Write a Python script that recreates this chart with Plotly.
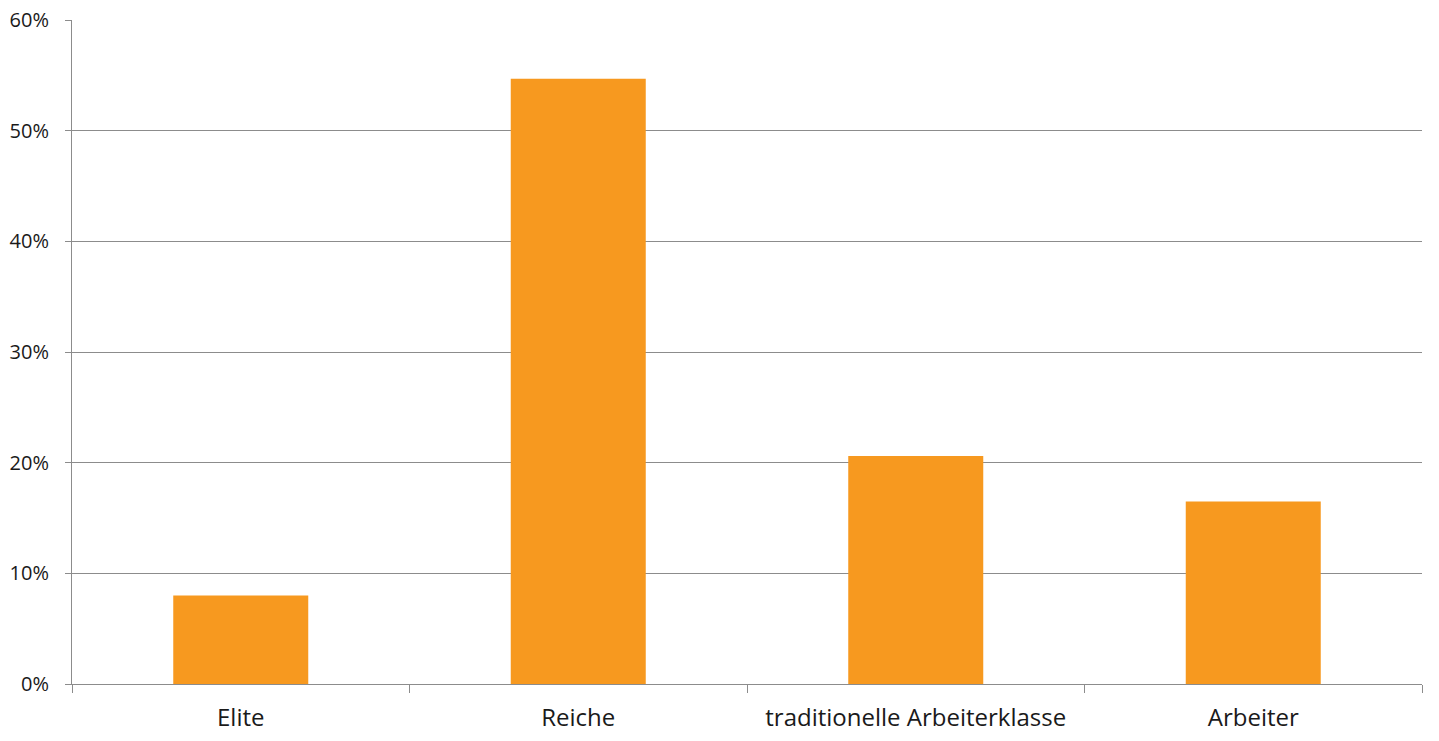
import plotly.graph_objects as go

# Anteil je Klasse (in %)
klassen = ["Elite", "Reiche", "traditionelle Arbeiterklasse", "Arbeiter"]
anteile = [8.0, 54.7, 20.6, 16.5]

y_ticks = [0, 10, 20, 30, 40, 50, 60]
y_labels = ["0%", "10%", "20%", "30%", "40%", "50%", "60%"]

fig = go.Figure(go.Bar(x=klassen, y=anteile, marker_color="#F7991F",
                       marker_line_width=0, hoverinfo="x+y"))

# page has 8px body margin, so shrink the figure to fit the window
fig.update_layout(
    width=1423, height=725,
    margin=dict(l=64, r=9, t=12, b=49),
    paper_bgcolor="white", plot_bgcolor="white",
    font=dict(family="Open Sans", color="#1a1a1a", size=18),
    bargap=0.6,
    showlegend=False,
)
fig.update_xaxes(
    type="category", tickson="boundaries", ticks="outside", ticklen=8,
    tickcolor="#8c8c8c", showline=True, linecolor="#8c8c8c", linewidth=1,
    showgrid=False, tickfont=dict(size=24), ticklabelstandoff=12,
    automargin=False,
)
fig.update_yaxes(
    range=[0, 60], tickvals=y_ticks, ticktext=y_labels,
    ticks="outside", ticklen=6, tickcolor="#8c8c8c",
    showline=True, linecolor="#8c8c8c", linewidth=1,
    showgrid=True, gridcolor="#8c8c8c", gridwidth=1, zeroline=False,
    tickfont=dict(size=20), ticklabelstandoff=12,
    ticklabeloverflow="allow", automargin=False,
)

fig.write_html("out.html")
